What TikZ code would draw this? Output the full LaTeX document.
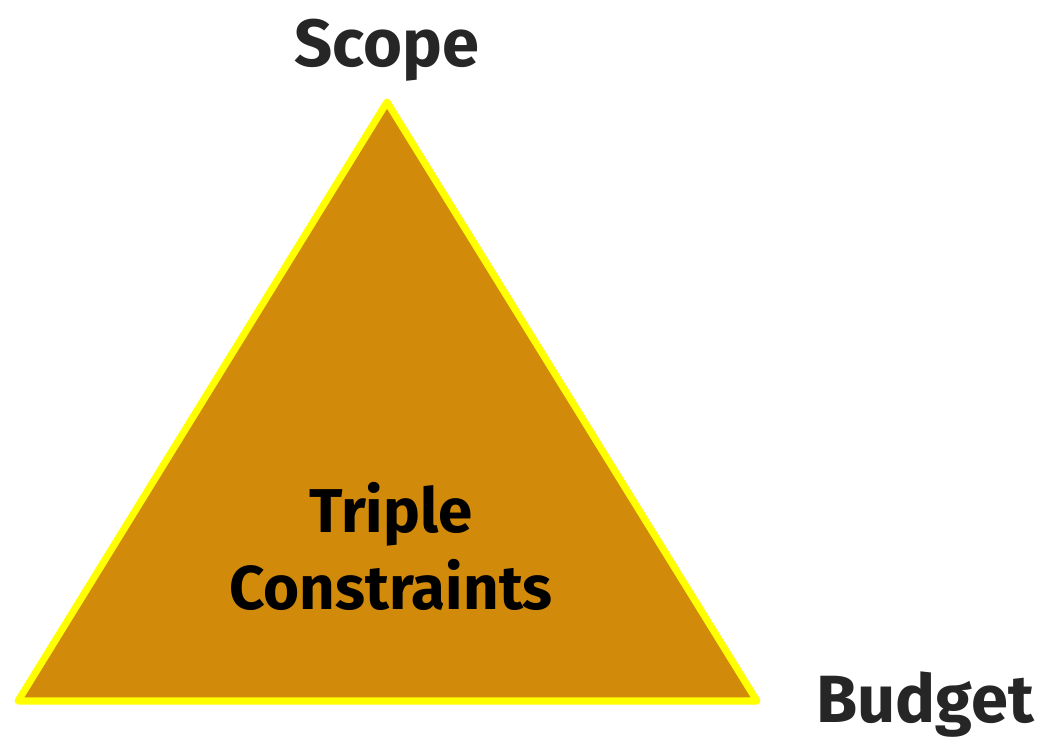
\documentclass[tikz,border=0pt]{standalone}
\usepackage{fontspec}
\setmainfont{Fira Sans}
\usepackage{tikz}
\usetikzlibrary{arrows}

\definecolor{triFill}{HTML}{D18A0A}
\definecolor{triEdge}{HTML}{FFFF00}
\definecolor{labelGray}{HTML}{262626}

\begin{document}
\begin{tikzpicture}[
    x=0.025cm, y=0.025cm,
    corner label/.style = {font=\fontsize{47.5}{54}\selectfont\bfseries, text=labelGray, inner sep=0pt, anchor=base},
    center label/.style = {font=\fontsize{44}{54}\selectfont\bfseries, text=black, inner sep=0pt, anchor=base},
    tri/.style = {draw=triEdge, fill=triFill, line width=5pt, line join=round}
]
\useasboundingbox (0,0) rectangle (1040,742);

% Corners
\coordinate (top) at (387, 640);
\coordinate (left) at (18, 41);
\coordinate (right) at (757, 41);

% Triangle
\draw[tri] (top) -- (left) -- (right) -- cycle;

% Labels
\node[corner label] (scope) at (387, 675) {Scope};
\node[corner label] (budget) at (925, 19) {Budget};
\node[center label] (tc1) at (391, 209) {Triple};
\node[center label] (tc2) at (391, 132) {Constraints};

\end{tikzpicture}
\end{document}
